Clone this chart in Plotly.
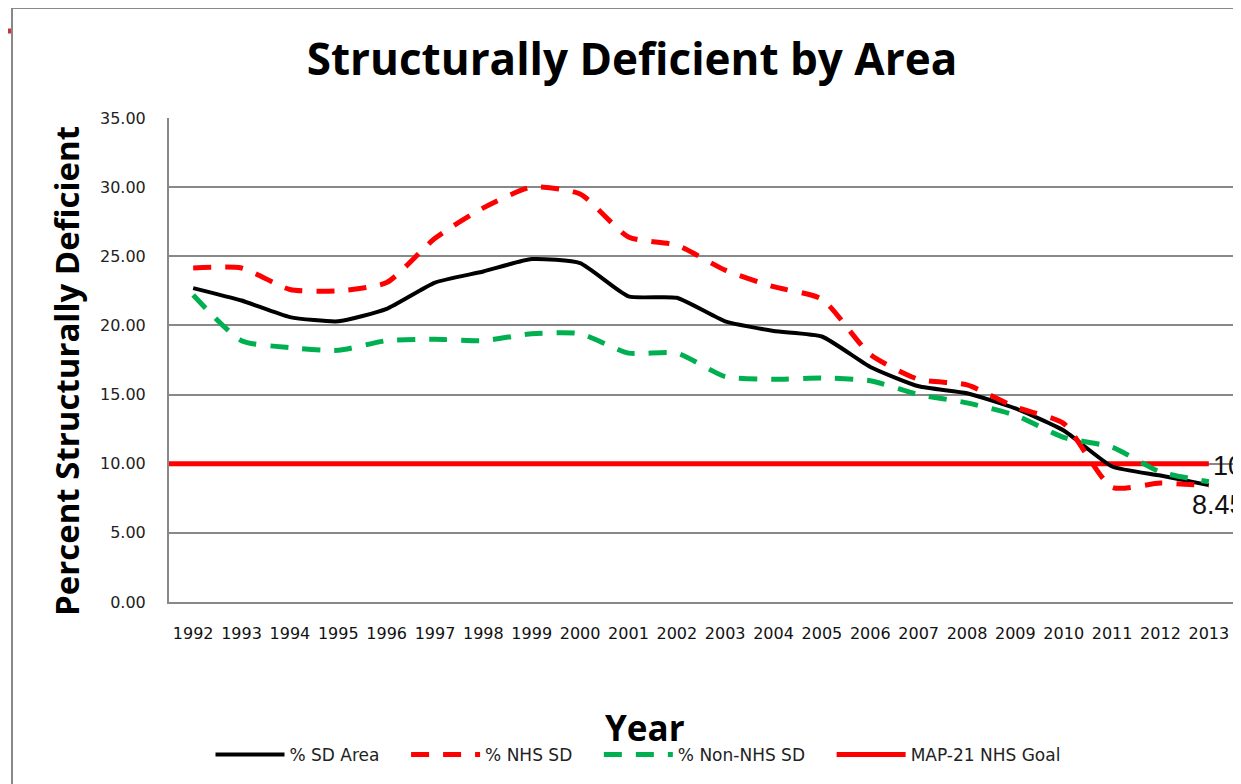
import plotly.graph_objects as go

years = list(range(1992, 2014))
year_labels = [str(y) for y in years]

sd_area = [22.7, 21.8, 20.6, 20.3, 21.2, 23.1, 23.9, 24.8, 24.5, 22.1, 22.0,
           20.3, 19.6, 19.2, 17.0, 15.6, 15.1, 14.0, 12.4, 9.8, 9.15, 8.45]
nhs_sd = [24.15, 24.15, 22.6, 22.5, 23.1, 26.3, 28.5, 30.0, 29.5, 26.4, 25.8,
          24.0, 22.8, 21.9, 17.9, 16.1, 15.7, 14.1, 12.9, 8.3, 8.6, 8.4]
non_nhs_sd = [22.2, 18.9, 18.4, 18.2, 18.9, 19.0, 18.9, 19.4, 19.4, 18.0, 18.0,
              16.3, 16.1, 16.2, 16.0, 15.0, 14.4, 13.5, 11.9, 11.2, 9.4, 8.7]
goal_value = 10
end_label_goal = "10"
end_label_sd = "8.45"
y_ticks = [0, 5, 10, 15, 20, 25, 30, 35]
series_names = ["% SD Area", "% NHS SD", "% Non-NHS SD", "MAP-21 NHS Goal"]

# Page has an 8px body margin: figure pixel = screen pixel - OFF
OFF = 8
W, H = 1241, 784
# plot area in screen pixels
L, R, T, B = 169, 1233, 118, 602


def px(x):
    return (x - L) / (R - L)


def py(y):
    return (B - y) / (B - T)


PAD = "\u00a0" * 4

fig = go.Figure()

fig.add_trace(go.Scatter(
    x=[years[0] - 0.5, years[-1]], y=[goal_value, goal_value],
    mode="lines", name=series_names[3],
    line=dict(color="#FF0000", width=5), showlegend=False))

fig.add_trace(go.Scatter(
    x=years, y=sd_area, mode="lines", name=series_names[0] + PAD,
    line=dict(color="#000000", width=4, shape="spline", smoothing=0.5)))
fig.add_trace(go.Scatter(
    x=years, y=nhs_sd, mode="lines", name=series_names[1] + PAD,
    line=dict(color="#FF0000", width=5, dash="18px,14px", shape="spline", smoothing=0.6)))
fig.add_trace(go.Scatter(
    x=years, y=non_nhs_sd, mode="lines", name=series_names[2] + PAD,
    line=dict(color="#00B050", width=5, dash="18px,14px", shape="spline", smoothing=0.6)))
fig.add_trace(go.Scatter(
    x=[None], y=[None], mode="lines", name=series_names[3],
    line=dict(color="#FF0000", width=5)))

fig.update_layout(
    width=W, height=H,
    margin=dict(l=L - OFF, r=W - (R - OFF), t=T - OFF, b=H - (B - OFF)),
    paper_bgcolor="white", plot_bgcolor="white",
    title=dict(text="<b>Structurally Deficient by Area</b>",
               x=(632 - OFF) / W, y=1 - (60 - OFF) / H, xref="container", yref="container",
               xanchor="center", yanchor="middle",
               font=dict(family="Open Sans", size=44, color="#000")),
    showlegend=True,
    legend=dict(orientation="h", x=px(638), y=py(755), xanchor="center", yanchor="middle",
                font=dict(family="DejaVu Sans", size=17, color="#222"),
                itemwidth=69, bgcolor="rgba(0,0,0,0)"),
    xaxis=dict(range=[years[0] - 0.5, years[-1] + 0.5], tickvals=years, ticktext=year_labels,
               showgrid=False, zeroline=False, showline=True, linecolor="#888", linewidth=2,
               ticks="", ticklabelstandoff=16,
               tickfont=dict(family="DejaVu Sans", size=16, color="#111")),
    yaxis=dict(range=[0, 35], tickvals=y_ticks, tickformat=".2f",
               showgrid=True, gridcolor="#888", gridwidth=2, zeroline=False,
               showline=True, linecolor="#888", linewidth=2, ticks="",
               ticklabelstandoff=18,
               tickfont=dict(family="DejaVu Sans", size=16, color="#222")),
)

annotations = [
    dict(text="<b>Percent Structurally Deficient</b>", xref="paper", yref="paper",
         x=px(66), y=py(371), textangle=-90, showarrow=False,
         font=dict(family="Open Sans", size=33, color="#000"),
         xanchor="center", yanchor="middle"),
    dict(text="<b>Year</b>", xref="paper", yref="paper", x=px(645), y=py(727),
         showarrow=False, font=dict(family="Open Sans", size=35, color="#000"),
         xanchor="center", yanchor="middle"),
    dict(text=end_label_goal, x=years[-1], y=goal_value, xref="x", yref="y",
         xanchor="left", yanchor="middle", xshift=2, yshift=-2, showarrow=False,
         font=dict(family="Liberation Sans", size=27, color="#111")),
    dict(text=end_label_sd, x=years[-1], y=sd_area[-1], xref="x", yref="y",
         xanchor="left", yanchor="middle", xshift=-19, yshift=-20, showarrow=False,
         font=dict(family="Liberation Sans", size=27, color="#111")),
]
fig.update_layout(annotations=annotations)

shapes = [
    dict(type="line", xref="paper", yref="paper", x0=px(12), x1=px(W + 40), y0=py(8), y1=py(8),
         line=dict(color="#888", width=2)),
    dict(type="line", xref="paper", yref="paper", x0=px(12), x1=px(12), y0=py(8), y1=py(H + 40),
         line=dict(color="#888", width=2)),
    dict(type="line", xref="paper", yref="paper", x0=px(0), x1=px(11), y0=py(31), y1=py(31),
         line=dict(color="#C8353A", width=5)),
]
fig.update_layout(shapes=shapes)

fig.write_html("out.html")
